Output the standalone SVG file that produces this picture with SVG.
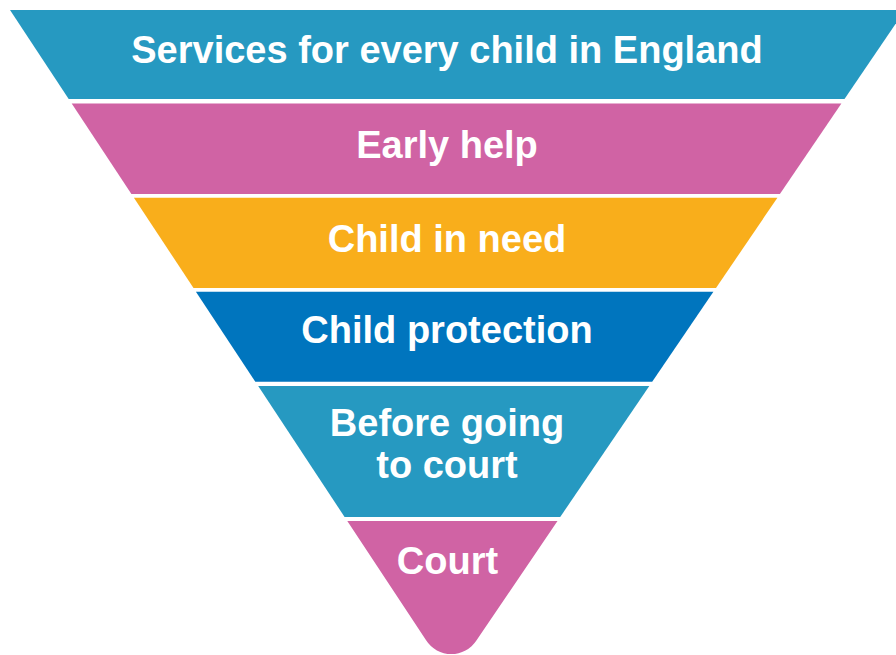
<svg xmlns="http://www.w3.org/2000/svg" width="896" height="655" viewBox="0 0 896 655">
<style>
.lbl{font-family:"Liberation Sans",Arial,Helvetica,sans-serif;font-weight:bold;font-size:38px;fill:#ffffff;text-anchor:middle}
.blue{fill:#2699C1}.pink{fill:#D063A4}.orange{fill:#F9AE1B}.dblue{fill:#0075BE}
</style>
<rect width="896" height="655" fill="#ffffff"/>
<g id="band-services">
<polygon class="blue" points="10,10 905,10 844.5,99 68.7,99"/>
<text class="lbl" x="447" y="63">Services for every child in England</text>
</g>
<g id="band-early-help">
<polygon class="pink" points="71.7,103.5 841.4,103.5 779.9,194 131.4,194"/>
<text class="lbl" x="447" y="158">Early help</text>
</g>
<g id="band-child-in-need">
<polygon class="orange" points="133.9,197.7 777.4,197.7 716,288 193.5,288"/>
<text class="lbl" x="447" y="251.5">Child in need</text>
</g>
<g id="band-child-protection">
<polygon class="dblue" points="195.9,291.7 713.4,291.7 652.2,381.7 255.3,381.7"/>
<text class="lbl" x="447" y="343">Child protection</text>
</g>
<g id="band-before-court">
<polygon class="blue" points="258.2,386 649.3,386 560.2,517 344.6,517"/>
<text class="lbl" x="447" y="436">Before going</text>
<text class="lbl" x="447" y="477.5">to court</text>
</g>
<g id="band-court">
<path class="pink" d="M347.3,521 L557.5,521 L476.4,640.6 A30,30 0 0 1 426.1,640.3 Z"/>
<text class="lbl" x="447.5" y="573.5">Court</text>
</g>
<g id="connectors"></g>
</svg>
